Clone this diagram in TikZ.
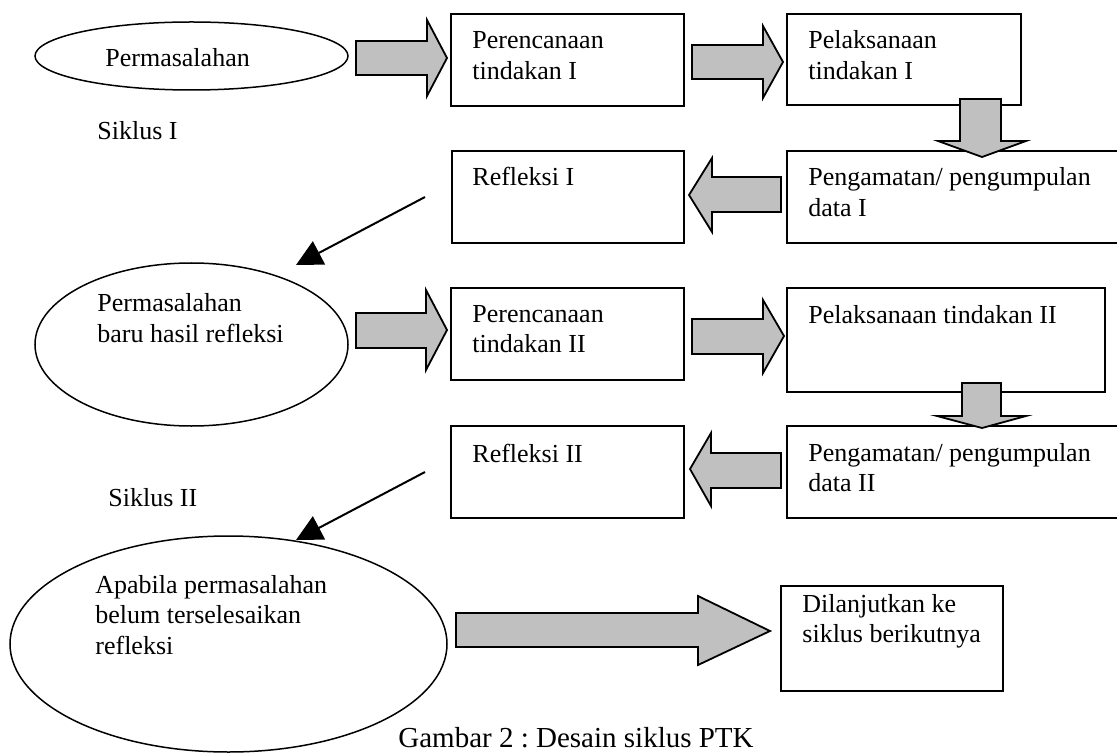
\documentclass[tikz,border=0pt]{standalone}
\usepackage{fontspec}
\setmainfont{Liberation Serif}
\usetikzlibrary{fit,shapes.geometric,arrows.meta}
\frenchspacing
\newcommand{\mylines}[2]{\parbox[t]{#1}{\raggedright #2}}
\begin{document}
\begin{tikzpicture}[x=0.5pt,y=-0.5pt,
  every node/.style={font=\fontsize{13}{15.3}\selectfont},
  box/.style={draw, line width=0.9pt, inner sep=0pt, fill=white},
  oval/.style={draw, ellipse, line width=0.75pt, inner sep=0pt},
  lbl/.style={anchor=base west, inner sep=0pt},
  blockarrow/.style={draw, line width=0.9pt, fill={rgb,255:red,192;green,192;blue,192}, line join=miter},
  diag/.style={line width=1pt, -{Triangle[length=13pt,width=13pt]}}
]
\useasboundingbox (0,0) rectangle (1117,753);
\clip (0,0) rectangle (1117,753);

% ellipses
\node[oval, minimum width=156.5pt, minimum height=34pt] (e1) at (191.5,56) {};
\node[oval, minimum width=156.5pt, minimum height=81.5pt] (e2) at (191.5,344.5) {};
\node[oval, minimum width=218.5pt, minimum height=108pt] (e3) at (228.5,644) {};

% boxes
\node[box, fit={(451,14) (684,106)}] (b1) {};
\node[box, fit={(787,14) (1021,105)}] (b2) {};
\node[box, fit={(452,151) (684,243)}] (b3) {};
\node[box, fit={(787,151) (1130,243)}] (b4) {};
\node[box, fit={(451,288) (684,380)}] (b5) {};
\node[box, fit={(787,288) (1105,392)}] (b6) {};
\node[box, fit={(451,426) (684,518)}] (b7) {};
\node[box, fit={(787,426) (1130,518)}] (b8) {};
\node[box, fit={(781,586) (1003,691)}] (b9) {};

% block arrows
\draw[blockarrow] (356,41) -- (427,41) -- (427,20) -- (447,58) -- (427,96) -- (427,75) -- (356,75) -- cycle;
\draw[blockarrow] (692,45) -- (763,45) -- (763,26) -- (783,62) -- (763,98) -- (763,79) -- (692,79) -- cycle;
\draw[blockarrow] (960,99) -- (1001,99) -- (1001,141) -- (1026,141) -- (982,157) -- (938,141) -- (960,141) -- cycle;
\draw[blockarrow] (781,177) -- (712,177) -- (712,158) -- (689,195) -- (712,232) -- (712,212) -- (781,212) -- cycle;
\draw[blockarrow] (356,313) -- (426,313) -- (426,290) -- (447,330) -- (426,370) -- (426,348) -- (356,348) -- cycle;
\draw[blockarrow] (692,319) -- (763,319) -- (763,300) -- (784,336) -- (763,373) -- (763,354) -- (692,354) -- cycle;
\draw[blockarrow] (962,383) -- (1001,383) -- (1001,416) -- (1026,416) -- (982,428) -- (937,416) -- (962,416) -- cycle;
\draw[blockarrow] (781,453) -- (711,453) -- (711,433) -- (690,469) -- (711,506) -- (711,488) -- (781,488) -- cycle;
\draw[blockarrow] (456,613) -- (698,613) -- (698,596) -- (770,631) -- (698,665) -- (698,647) -- (456,647) -- cycle;

% diagonal arrows
\coordinate (d1s) at (425,197);
\coordinate (d1e) at (296,265);
\coordinate (d2s) at (425,472);
\coordinate (d2e) at (296,540);
\draw[diag] (d1s) -- (d1e);
\draw[diag] (d2s) -- (d2e);

% texts
\node[lbl] (t1) at (105,67) {Permasalahan};
\node[lbl] (t2) at (97,140) {Siklus I};
\node[lbl] (t3) at (472,49) {\mylines{120pt}{Perencanaan\\tindakan I}};
\node[lbl] (t4) at (808,49) {\mylines{120pt}{Pelaksanaan\\tindakan I}};
\node[lbl] (t5) at (472,186) {Refleksi I};
\node[lbl] (t6) at (808,186) {\mylines{160pt}{Pengamatan/ pengumpulan\\data I}};
\node[lbl] (t7) at (97,312) {\mylines{120pt}{Permasalahan\\baru hasil refleksi}};
\node[lbl] (t8) at (472,322) {\mylines{120pt}{Perencanaan\\tindakan II}};
\node[lbl] (t9) at (808,323) {Pelaksanaan tindakan II};
\node[lbl] (t10) at (472,462) {Refleksi II};
\node[lbl] (t11) at (808,461) {\mylines{160pt}{Pengamatan/ pengumpulan\\data II}};
\node[lbl] (t12) at (108,506) {Siklus II};
\node[lbl] (t13) at (95,593) {\mylines{150pt}{Apabila permasalahan\\belum terselesaikan\\refleksi}};
\node[lbl] (t14) at (802,612) {\mylines{120pt}{Dilanjutkan ke\\siklus berikutnya}};
\node[lbl, font=\fontsize{14.5}{17}\selectfont] (cap) at (398,747) {Gambar 2 : Desain siklus PTK};
\end{tikzpicture}
\end{document}
